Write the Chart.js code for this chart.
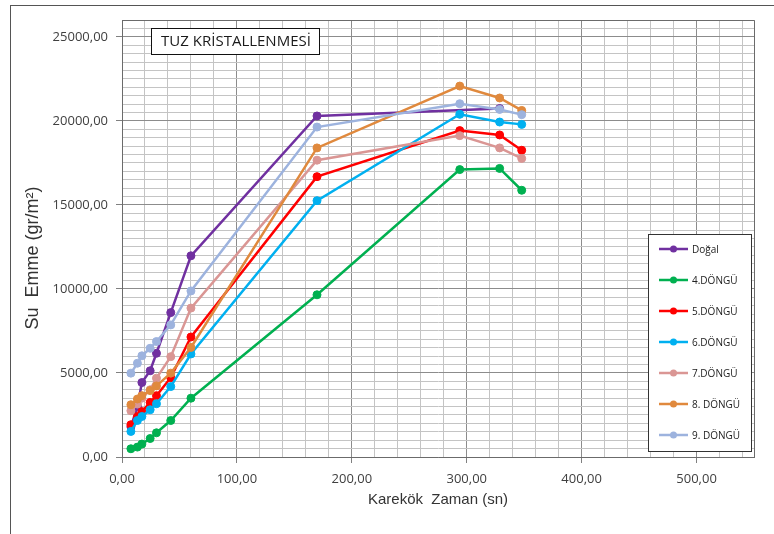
<!DOCTYPE html>
<html>
<head>
<meta charset="utf-8">
<script src="https://cdn.jsdelivr.net/npm/chart.js@4"></script>
<style>
  html, body { margin: 0; padding: 0; background: #fff; overflow: hidden; }
  #wrap { position: relative; width: 774px; height: 534px; }
  #frame { position: absolute; left: 10px; top: 5px; width: 900px; height: 700px; border: 1px solid #555; }
  #c { position: absolute; left: 0; top: 0; }
</style>
</head>
<body>
<div id="wrap">
  <div id="frame"></div>
  <canvas id="c" width="774" height="534"></canvas>
</div>
<script>
// karekök zaman (sn) - x values
const xValues = [7.75, 13.42, 17.32, 24.49, 30.00, 42.43, 60.00, 169.71, 293.94, 328.63, 347.85];

// su emme (gr/m2) per series
const dogal  = [1800, 3000, 4430, 5130, 6170, 8590, 11970, 20290, null, 20730];
const dongu4 = [490, 590, 770, 1100, 1440, 2170, 3500, 9650, 17100, 17170, 15870];
const dongu5 = [1920, 2410, 2700, 3250, 3650, 4720, 7140, 16680, 19420, 19160, 18250];
const dongu6 = [1520, 2170, 2410, 2810, 3170, 4190, 6130, 15250, 20390, 19930, 19790];
const dongu7 = [2750, 3150, 3500, 4000, 4690, 5970, 8860, 17660, 19120, 18390, 17760];
const dongu8 = [3110, 3450, 3650, 3950, 4230, 4990, 6520, 18390, 22070, 21360, 20620];
const dongu9 = [4990, 5580, 6020, 6470, 6870, 7860, 9880, 19630, 21020, 20680, 20370];

const seriesLabels = ["Doğal", "4.DÖNGÜ", "5.DÖNGÜ", "6.DÖNGÜ", "7.DÖNGÜ", "8. DÖNGÜ", "9. DÖNGÜ"];
const seriesColors = ["#7030A0", "#00B050", "#FF0000", "#00B0F0", "#DA9694", "#E0893D", "#9DB3DE"];
const allSeries = [dogal, dongu4, dongu5, dongu6, dongu7, dongu8, dongu9];

const xMax = 550, xStep = 20, xMajor = 100;
const yMax = 26000, yStep = 500, yMajor = 5000;

const fmt = (v) => v.toFixed(2).replace(".", ",");

const datasets = allSeries.map((vals, i) => ({
  label: seriesLabels[i],
  data: vals.map((v, j) => ({ x: xValues[j], y: v })),
  borderColor: seriesColors[i],
  backgroundColor: seriesColors[i],
  borderWidth: 2.5,
  pointRadius: 4,
  pointBorderWidth: 1,
  spanGaps: true,
  order: allSeries.length - i,
}));

function buildTicks(max, step) {
  const t = [];
  for (let v = 0; v <= max; v += step) t.push({ value: v });
  if (t[t.length - 1].value !== max) t.push({ value: max });
  return t;
}

const extras = {
  id: "extras",
  beforeDatasetsDraw(chart) {
    const { ctx, chartArea: a } = chart;
    ctx.save();
    ctx.strokeStyle = "#6b6b6b";
    ctx.lineWidth = 1;
    ctx.beginPath();
    ctx.moveTo(a.left, a.top + 0.5);
    ctx.lineTo(a.right + 0.5, a.top + 0.5);
    ctx.lineTo(a.right + 0.5, a.bottom);
    ctx.stroke();
    ctx.restore();
  },
  afterDatasetsDraw(chart) {
    const ctx = chart.ctx;
    ctx.save();
    // title box
    ctx.fillStyle = "#fff";
    ctx.fillRect(151.5, 28.5, 168, 26);
    ctx.strokeStyle = "#111";
    ctx.lineWidth = 1;
    ctx.strokeRect(151.5, 28.5, 168, 26);
    ctx.fillStyle = "#1a1a1a";
    ctx.font = "15px 'Open Sans'";
    ctx.textAlign = "center";
    ctx.textBaseline = "middle";
    ctx.fillText("TUZ KRİSTALLENMESİ", 236, 42);

    // y axis title
    ctx.save();
    ctx.translate(33, 258);
    ctx.rotate(-Math.PI / 2);
    ctx.font = "18px 'Liberation Sans'";
    ctx.fillStyle = "#333";
    ctx.fillText("Su  Emme (gr/m²)", 0, 0);
    ctx.restore();

    // legend
    ctx.fillStyle = "#fff";
    ctx.fillRect(648.5, 234.5, 103, 217);
    ctx.strokeStyle = "#333";
    ctx.strokeRect(648.5, 234.5, 103, 217);
    ctx.font = "10px 'Open Sans'";
    ctx.textAlign = "left";
    seriesLabels.forEach((lab, i) => {
      const y = 249 + i * 31;
      ctx.strokeStyle = seriesColors[i];
      ctx.lineWidth = 2.5;
      ctx.beginPath();
      ctx.moveTo(659, y);
      ctx.lineTo(688, y);
      ctx.stroke();
      ctx.fillStyle = seriesColors[i];
      ctx.beginPath();
      ctx.arc(673.5, y, 3.5, 0, Math.PI * 2);
      ctx.fill();
      ctx.fillStyle = "#222";
      ctx.fillText(lab, 692, y + 1);
    });
    ctx.restore();
  },
};

new Chart(document.getElementById("c"), {
  type: "line",
  data: { datasets },
  plugins: [extras],
  options: {
    responsive: false,
    animation: false,
    layout: { padding: { left: 0, top: 20, right: 20, bottom: 0 } },
    plugins: { legend: { display: false }, tooltip: { enabled: false } },
    scales: {
      x: {
        type: "linear",
        min: 0,
        max: xMax,
        afterBuildTicks: (s) => { s.ticks = buildTicks(xMax, xStep); },
        afterFit: (s) => { s.height = 77; },
        ticks: {
          autoSkip: false,
          maxRotation: 0,
          padding: 8,
          color: "#404040",
          font: { family: "Open Sans", size: 13 },
          callback: (v) => (v % xMajor === 0 ? fmt(v) : ""),
        },
        grid: {
          tickLength: 6,
          color: (c) => (c.tick && c.tick.value % xMajor === 0 ? "#8c8c8c" : "#c4c4c4"),
          tickColor: (c) => (c.tick && c.tick.value % xMajor === 0 ? "#808080" : "rgba(0,0,0,0)"),
        },
        border: { color: "#6b6b6b" },
        title: {
          display: true,
          text: "Karekök  Zaman (sn)",
          color: "#333",
          font: { family: "Liberation Sans", size: 15 },
          padding: { top: 0, bottom: 25 },
        },
      },
      y: {
        type: "linear",
        min: 0,
        max: yMax,
        afterBuildTicks: (s) => { s.ticks = buildTicks(yMax, yStep); },
        afterFit: (s) => { s.width = 122; },
        ticks: {
          autoSkip: false,
          padding: 8,
          color: "#404040",
          font: { family: "Open Sans", size: 13 },
          callback: (v) => (v % yMajor === 0 ? fmt(v) : ""),
        },
        grid: {
          tickLength: 6,
          color: (c) => (c.tick && c.tick.value % yMajor === 0 ? "#8c8c8c" : "#c4c4c4"),
          tickColor: (c) => (c.tick && c.tick.value % yMajor === 0 ? "#808080" : "rgba(0,0,0,0)"),
        },
        border: { color: "#6b6b6b" },
      },
    },
  },
});
</script>
</body>
</html>
